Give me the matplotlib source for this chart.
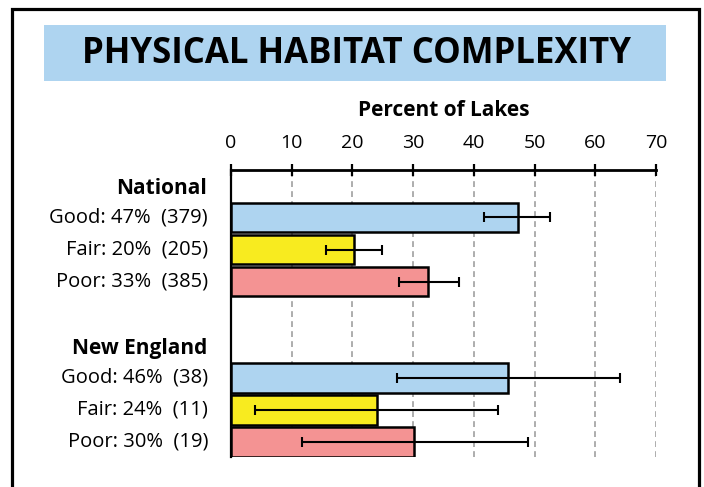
import matplotlib
matplotlib.use("Agg")
import matplotlib.pyplot as plt
from matplotlib.patches import Rectangle

title = "PHYSICAL HABITAT COMPLEXITY"
xlabel = "Percent of Lakes"
groups = ["National", "New England"]
categories = ["Good", "Fair", "Poor"]
national_vals = [47.3, 20.2, 32.5]
national_lo = [41.7, 15.6, 27.7]
national_hi = [52.6, 24.9, 37.5]
national_labels = ["Good: 47%  (379)", "Fair: 20%  (205)", "Poor: 33%  (385)"]
ne_vals = [45.7, 24.0, 30.2]
ne_lo = [27.3, 4.0, 11.7]
ne_hi = [64.0, 43.9, 48.9]
ne_labels = ["Good: 46%  (38)", "Fair: 24%  (11)", "Poor: 30%  (19)"]
xticks = [0, 10, 20, 30, 40, 50, 60, 70]
colors = ["#aed4f0", "#f8eb1f", "#f49393"]

plt.rcParams['font.family'] = ['Open Sans', 'DejaVu Sans']

W, H = 704, 487
fig = plt.figure(figsize=(W/100, H/100), dpi=100)

def fx(px): return px / W
def fy(py): return 1 - py / H

# outer frame
fig.patches.append(Rectangle((fx(12), fy(530)), fx(699) - fx(12), fy(9) - fy(530),
                             transform=fig.transFigure, fill=False, ec='black', lw=2.3, zorder=0))
# title band
fig.patches.append(Rectangle((fx(44), fy(81)), fx(666) - fx(44), fy(25) - fy(81),
                             transform=fig.transFigure, fc='#aed4f0', ec='none', zorder=0))
fig.text(fx(357), fy(54), title, ha='center', va='center', fontsize=25, fontweight='bold')

ax = fig.add_axes([fx(231), fy(457), fx(656) - fx(231), fy(170) - fy(457)])
ax.set_xlim(0, 70)
ax.set_ylim(7.47, -1.48)

rows_nat = [0, 1, 2]
rows_ne = [5, 6, 7]
for rows, vals, lo, hi in [(rows_nat, national_vals, national_lo, national_hi),
                           (rows_ne, ne_vals, ne_lo, ne_hi)]:
    ax.barh(rows, vals, height=0.92, color=colors, edgecolor='black', linewidth=1.8, zorder=3)
    xerr = [[v - l for v, l in zip(vals, lo)], [h - v for v, h in zip(vals, hi)]]
    ax.errorbar(vals, rows, xerr=xerr, fmt='none', ecolor='black', elinewidth=1.5,
                capsize=3.6, capthick=1.5, zorder=4)

ax.set_xticks(xticks)
ax.xaxis.tick_top()
ax.tick_params(axis='x', direction='inout', length=8.5, width=1.6, labelsize=14, pad=9)
ax.set_yticks([])
for x in xticks[1:]:
    ax.axvline(x, color='#a0a0a0', lw=1.2, ls=(0, (3.5, 2.5)), zorder=1)
for s in ['right', 'bottom']:
    ax.spines[s].set_visible(False)
ax.spines['top'].set_linewidth(2)
ax.spines['left'].set_linewidth(1.6)
ax.set_xlabel(xlabel, fontsize=15, fontweight='bold', labelpad=13)
ax.xaxis.set_label_position('top')

tr = matplotlib.transforms.blended_transform_factory(fig.transFigure, ax.transData)
ax.text(fx(207), -0.9, groups[0], transform=tr, ha='right', va='center', fontsize=15, fontweight='bold')
ax.text(fx(207), 4.1, groups[1], transform=tr, ha='right', va='center', fontsize=15, fontweight='bold')
for r, lab in zip(rows_nat, national_labels):
    ax.text(fx(208), r, lab, transform=tr, ha='right', va='center', fontsize=14.5)
for r, lab in zip(rows_ne, ne_labels):
    ax.text(fx(208), r, lab, transform=tr, ha='right', va='center', fontsize=14.5)

fig.savefig("out.png", dpi=100)
